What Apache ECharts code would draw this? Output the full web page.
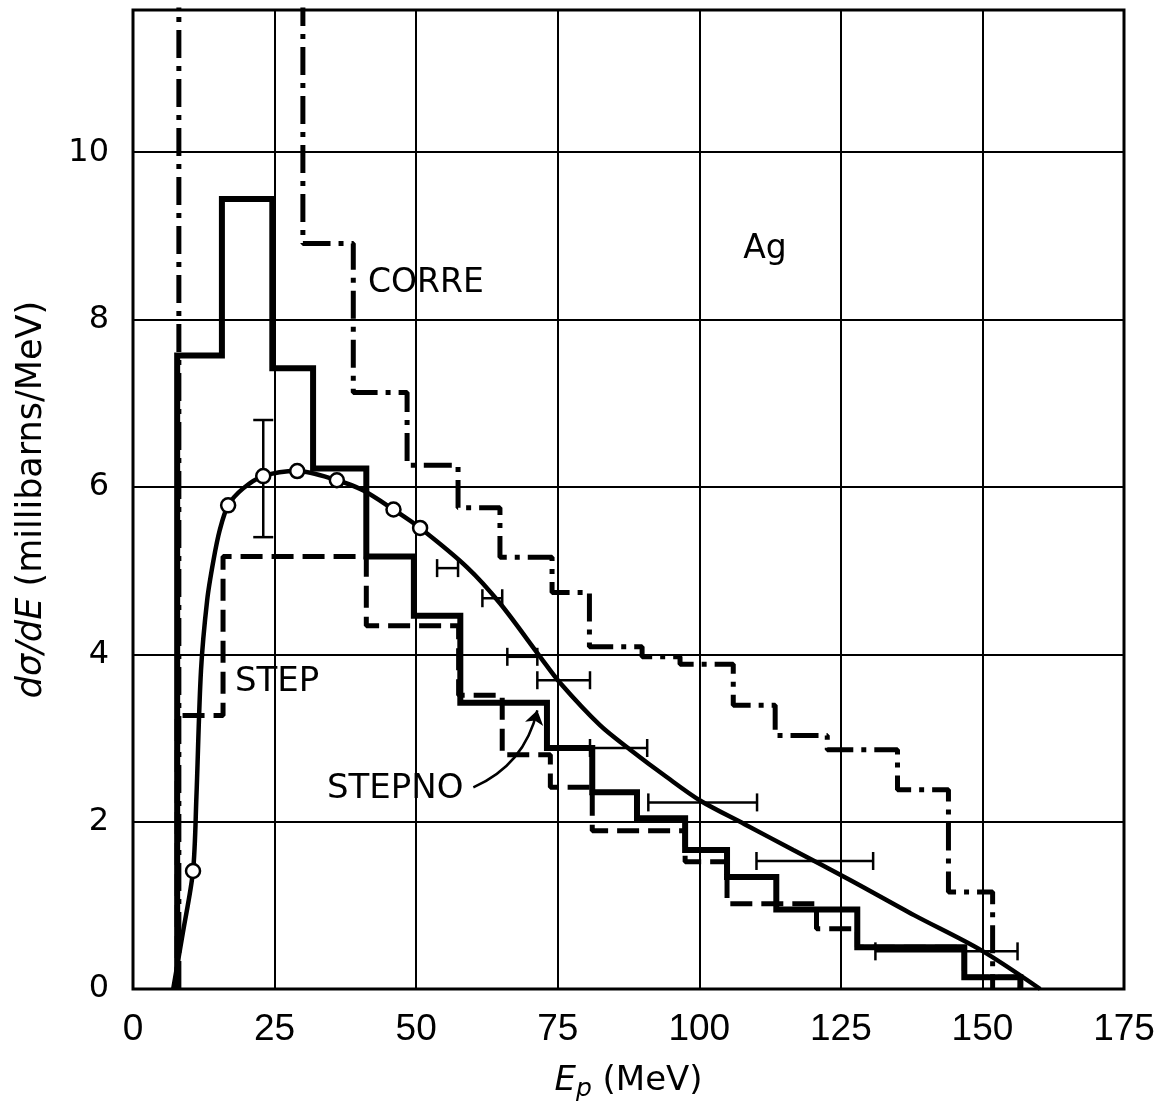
<!DOCTYPE html>
<html>
<head>
<meta charset="utf-8">
<script src="https://cdn.jsdelivr.net/npm/echarts@6/dist/echarts.min.js"></script>
<style>
  html, body { margin: 0; background: #fff; }
  #chart { width: 1158px; height: 1112px; }
</style>
</head>
<body>
<div id="chart"></div>
<script>
// histogram bin edges (MeV) and heights (millibarns/MeV)
const stepnoEdges  = [7.8, 15.7, 24.6, 31.8, 41.2, 49.6, 57.8, 73.1, 81.1, 89.0, 97.5, 104.9, 113.6, 127.9, 146.8, 156.7]
const stepnoValues = [7.57, 9.44, 7.42, 6.22, 5.17, 4.46, 3.42, 2.88, 2.35, 2.04, 1.66, 1.34, 0.95, 0.50, 0.14]

const stepEdges  = [7.8, 15.9, 41.2, 57.5, 65.2, 73.7, 81.1, 97.5, 104.9, 120.7, 127.9, 146.8, 156.7]
const stepValues = [3.27, 5.17, 4.34, 3.51, 2.80, 2.41, 1.89, 1.52, 1.02, 0.72, 0.50, 0.14]

// first CORRE bin runs off the top of the plot
const corEdges  = [8.1, 30.0, 38.9, 48.4, 57.4, 64.8, 74.0, 80.6, 89.9, 96.6, 106.0, 113.4, 122.6, 135.0, 144.0, 151.8]
const corValues = [12.5, 8.91, 7.13, 6.26, 5.75, 5.16, 4.74, 4.09, 3.97, 3.88, 3.39, 3.03, 2.86, 2.38, 1.16]

// smooth curve, read point by point
const curveX = [7.1, 8.8, 10.6, 11.2, 12.0, 13.1, 14.2, 15.3, 16.8, 19.4, 23.0, 29.0, 36.0, 40.6, 46.0, 50.7, 59.0, 64.8, 71.9, 75.4, 82.5, 87.8, 94.3, 100.2, 108.0, 116.6, 126.7, 138.0, 149.6, 160.2]
const curveY = [0, 0.67, 1.41, 2.3, 3.8, 4.65, 5.12, 5.48, 5.78, 5.98, 6.13, 6.19, 6.08, 5.96, 5.73, 5.51, 5.04, 4.61, 3.97, 3.66, 3.15, 2.86, 2.53, 2.25, 1.97, 1.66, 1.30, 0.88, 0.47, 0]

// open circles
const pointX = [10.6, 16.8, 23.0, 29.0, 36.0, 46.0, 50.7]
const pointY = [1.41, 5.78, 6.13, 6.19, 6.08, 5.73, 5.51]

// vertical error bar on the 23 MeV point
const vErrX = [23.0]
const vErrLo = [5.40]
const vErrHi = [6.80]

// horizontal (energy) error bars
const hErrY  = [5.03, 4.67, 3.97, 3.69, 2.88, 2.23, 1.53, 0.45]
const hErrLo = [53.7, 61.7, 66.1, 71.4, 80.7, 91.0, 110.1, 131.1]
const hErrHi = [57.4, 65.2, 71.4, 80.7, 90.8, 110.2, 130.7, 156.2]

// arrow from the STEPNO label
const arrowFrom = [60.1, 2.41]
const arrowTo   = [71.4, 3.33]

const xTicks = [0, 25, 50, 75, 100, 125, 150, 175]

// turn edges + heights into the outline of a histogram
function histPath(edges, values) {
    let pts = [[edges[0], 0]]
    values.forEach((v, i) => {
        pts.push([edges[i], v])
        pts.push([edges[i + 1], v])
    })
    pts.push([edges[edges.length - 1], 0])
    return pts
}

const black = '#000'
const lineFont = 'DejaVu Sans'

let chart = echarts.init(document.getElementById('chart'))

chart.setOption({
    animation: false,
    backgroundColor: '#fff',
    grid: {
        left: 133, right: 34, top: 10, bottom: 123,
        show: true, borderColor: black, borderWidth: 3,
        outerBoundsMode: 'none'
    },
    xAxis: {
        type: 'value',
        min: xTicks[0], max: xTicks[xTicks.length - 1], interval: 25,
        axisLine: { show: false },
        axisTick: { show: false },
        splitLine: { show: true, lineStyle: { color: black, width: 2 } },
        axisLabel: {
            margin: 22, color: black, fontSize: 37,
            fontFamily: "'Liberation Sans Narrow', 'Liberation Sans', sans-serif"
        },
        name: '{i|E}{sub|p} (MeV)',
        nameLocation: 'middle',
        nameGap: 72,
        nameTextStyle: {
            color: black, fontSize: 34, fontFamily: lineFont,
            rich: {
                i: { fontStyle: 'italic', fontSize: 34, fontFamily: lineFont, color: black },
                sub: { fontStyle: 'italic', fontSize: 25, fontFamily: lineFont, color: black, verticalAlign: 'bottom', padding: [16, 0, 0, 0] }
            }
        }
    },
    yAxis: {
        type: 'value',
        min: 0, max: 11.7, interval: 2,
        axisLine: { show: false },
        axisTick: { show: false },
        splitLine: { show: true, lineStyle: { color: black, width: 2 } },
        axisLabel: {
            margin: 24, color: black, fontSize: 32, fontFamily: lineFont,
            showMaxLabel: false
        },
        name: '{i|dσ/dE} (millibarns/MeV)',
        nameLocation: 'middle',
        nameGap: 84,
        nameTextStyle: {
            color: black, fontSize: 35, fontFamily: lineFont,
            rich: {
                i: { fontStyle: 'italic', fontSize: 35, fontFamily: lineFont, color: black }
            }
        }
    },
    series: [
        {
            name: 'CORRE', type: 'line', z: 3,
            data: histPath(corEdges, corValues),
            showSymbol: false, clip: true,
            lineStyle: { color: black, width: 5, type: [28, 8, 5, 8], cap: 'butt' }
        },
        {
            name: 'STEP', type: 'line', z: 3,
            data: histPath(stepEdges, stepValues),
            showSymbol: false,
            lineStyle: { color: black, width: 5, type: [22, 9], cap: 'butt' }
        },
        {
            name: 'STEPNO', type: 'line', z: 4,
            data: histPath(stepnoEdges, stepnoValues),
            showSymbol: false,
            lineStyle: { color: black, width: 6, join: 'miter' }
        },
        {
            name: 'curve', type: 'line', z: 5,
            data: curveX.map((x, i) => [x, curveY[i]]),
            showSymbol: false, smooth: 0.3,
            lineStyle: { color: black, width: 4.5 }
        },
        {
            name: 'hErr', type: 'custom', z: 6,
            data: hErrY.map((y, i) => [hErrLo[i], hErrHi[i], y]),
            encode: { x: [0, 1], y: 2 },
            renderItem: (params, api) => {
                let a = api.coord([api.value(0), api.value(2)])
                let b = api.coord([api.value(1), api.value(2)])
                let h = 9
                let st = { stroke: black, lineWidth: 2.5 }
                return { type: 'group', children: [
                    { type: 'line', shape: { x1: a[0], y1: a[1], x2: b[0], y2: b[1] }, style: st },
                    { type: 'line', shape: { x1: a[0], y1: a[1] - h, x2: a[0], y2: a[1] + h }, style: st },
                    { type: 'line', shape: { x1: b[0], y1: b[1] - h, x2: b[0], y2: b[1] + h }, style: st }
                ] }
            }
        },
        {
            name: 'vErr', type: 'custom', z: 6,
            data: vErrX.map((x, i) => [x, vErrLo[i], vErrHi[i]]),
            encode: { x: 0, y: [1, 2] },
            renderItem: (params, api) => {
                let a = api.coord([api.value(0), api.value(1)])
                let b = api.coord([api.value(0), api.value(2)])
                let w = 10
                let st = { stroke: black, lineWidth: 2.5 }
                return { type: 'group', children: [
                    { type: 'line', shape: { x1: a[0], y1: a[1], x2: b[0], y2: b[1] }, style: st },
                    { type: 'line', shape: { x1: a[0] - w, y1: a[1], x2: a[0] + w, y2: a[1] }, style: st },
                    { type: 'line', shape: { x1: b[0] - w, y1: b[1], x2: b[0] + w, y2: b[1] }, style: st }
                ] }
            }
        },
        {
            name: 'points', type: 'scatter', z: 7,
            data: pointX.map((x, i) => [x, pointY[i]]),
            symbol: 'circle', symbolSize: 14,
            itemStyle: { color: '#fff', borderColor: black, borderWidth: 2.5, opacity: 1 }
        },
        {
            name: 'arrow', type: 'lines', coordinateSystem: 'cartesian2d', z: 6,
            symbol: ['none', 'arrow'], symbolSize: 14,
            lineStyle: { color: black, width: 2.5, curveness: -0.25, opacity: 1 },
            data: [{ coords: [arrowFrom, arrowTo] }]
        }
    ],
    graphic: [
        { type: 'text', x: 368, y: 283, style: { text: 'CORRE', fontSize: 33, fontFamily: lineFont, fill: black, align: 'left', verticalAlign: 'middle' } },
        { type: 'text', x: 765, y: 249, style: { text: 'Ag', fontSize: 33, fontFamily: lineFont, fill: black, align: 'center', verticalAlign: 'middle' } },
        { type: 'text', x: 235, y: 682, style: { text: 'STEP', fontSize: 34, fontFamily: lineFont, fill: black, align: 'left', verticalAlign: 'middle' } },
        { type: 'text', x: 327, y: 789, style: { text: 'STEPNO', fontSize: 34, fontFamily: lineFont, fill: black, align: 'left', verticalAlign: 'middle' } }
    ]
})
</script>
</body>
</html>
